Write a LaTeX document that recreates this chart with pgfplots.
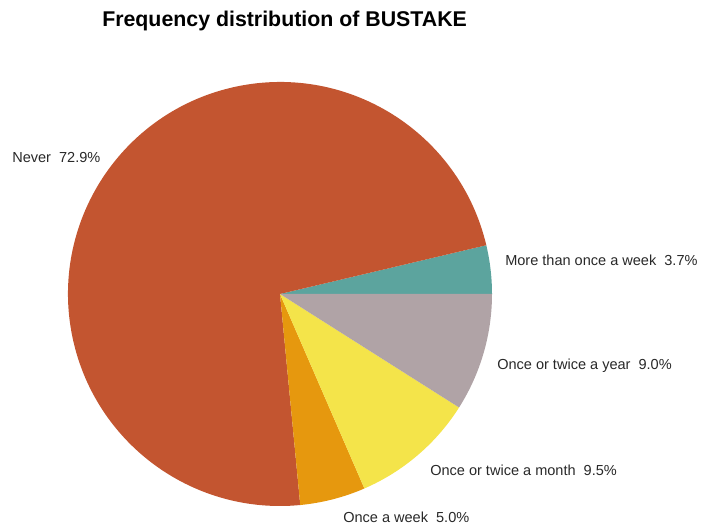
\documentclass[border=0pt]{standalone}
\usepackage{pgfplots}
\usepackage{pgfplotstable}
\usepackage{fontspec}
\setmainfont{Liberation Sans}
\pgfplotsset{compat=1.18}
\definecolor{cTeal}{RGB}{92,164,158}
\definecolor{cRust}{RGB}{195,85,48}
\definecolor{cOrange}{RGB}{230,152,14}
\definecolor{cYellow}{RGB}{244,228,74}
\definecolor{cGrey}{RGB}{176,163,166}
\definecolor{cText}{RGB}{40,40,40}
% label, percent, colour, label position (pixels from left, pixels from bottom)
\pgfplotstableread[col sep=comma]{
label,pct,color,lx,ly
More than once a week,3.7,cTeal,505,259
Never,72.9,cRust,12,362
Once a week,5.0,cOrange,343,3
Once or twice a month,9.5,cYellow,430,50
Once or twice a year,9.0,cGrey,497,155
}\piedata
\newcommand\labfont{\fontsize{10.9pt}{12pt}\selectfont}
\begin{document}
\begin{tikzpicture}
\begin{axis}[
  scale only axis, width=527.25pt, height=393.75pt,
  xmin=0, xmax=703, ymin=0, ymax=525,
  hide axis, clip=false]
\def\cumsum{0}
\def\total{100.1}
\pgfplotsforeachungrouped \k in {0,...,4}{%
  \pgfplotstablegetelem{\k}{pct}\of\piedata \let\pval\pgfplotsretval
  \pgfplotstablegetelem{\k}{color}\of\piedata \let\pcol\pgfplotsretval
  \pgfplotstablegetelem{\k}{label}\of\piedata \let\plab\pgfplotsretval
  \pgfplotstablegetelem{\k}{lx}\of\piedata \let\plx\pgfplotsretval
  \pgfplotstablegetelem{\k}{ly}\of\piedata \let\ply\pgfplotsretval
  \pgfmathsetmacro\angA{\cumsum/\total*360}%
  \pgfmathsetmacro\angB{(\cumsum+\pval)/\total*360}%
  \pgfmathprintnumberto[fixed,fixed zerofill,precision=1,assume math mode=true]{\pval}{\pstr}%
  \edef\temp{\noexpand\fill[\pcol] (axis cs:280,231) -- ++(\angA:159pt) arc[start angle=\angA, end angle=\angB, radius=159pt] -- cycle;
    \noexpand\node[anchor=base west, inner sep=0pt, text=cText, font=\noexpand\labfont] at (axis cs:\plx,\ply) {\plab\noexpand\ \noexpand\ \pstr\noexpand\%};}%
  \temp
  \pgfmathsetmacro\cumsum{\cumsum+\pval}%
}
\node[anchor=base west, inner sep=0pt, font=\bfseries\fontsize{16pt}{18pt}\selectfont] at (axis cs:102,498) {Frequency distribution of BUSTAKE};
\end{axis}
\pgfresetboundingbox
\path[use as bounding box] (0,0) rectangle (527.25pt,393.75pt);
\end{tikzpicture}
\end{document}
